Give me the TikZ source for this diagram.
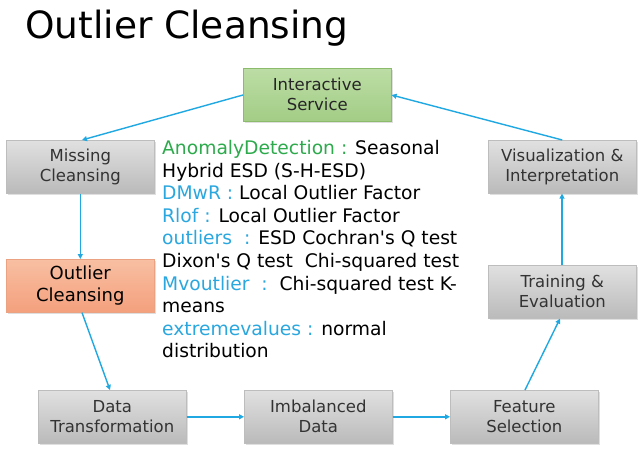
\documentclass[tikz,border=0pt]{standalone}
\usepackage{fontspec}
\setmainfont{DejaVu Sans}[Ligatures=TeXOff]
\usetikzlibrary{arrows.meta,shadows}
\definecolor{arrowblue}{HTML}{1FA8E1}
\definecolor{keyblue}{HTML}{2AA7DE}
\definecolor{keygreen}{HTML}{2DAA4C}
\definecolor{grayborder}{HTML}{BDBDBD}
\definecolor{greenborder}{HTML}{8DBB6C}
\definecolor{greentop}{HTML}{BCDDA5}
\definecolor{greenbot}{HTML}{A3CD86}
\definecolor{orangeborder}{HTML}{EBA283}
\definecolor{orangetop}{HTML}{F8BFA2}
\definecolor{orangebot}{HTML}{F4A07D}
\tikzset{
  box/.style={draw=grayborder, line width=0.6pt, top color=black!12, bottom color=black!27,
    minimum width=148pt, minimum height=53pt, inner sep=0pt, align=center,
    font=\fontsize{16.5}{20}\selectfont, text=black!80, anchor=north west,
    drop shadow={shadow xshift=1.5pt, shadow yshift=-1.5pt, opacity=0.25}},
  greenbox/.style={box, draw=greenborder, top color=greentop, bottom color=greenbot, text=black!85},
  orangebox/.style={box, draw=orangeborder, top color=orangetop, bottom color=orangebot},
  flow/.style={draw=arrowblue, line width=1.4pt, -{Triangle[length=5pt,width=5pt]}},
}
\begin{document}
\begin{tikzpicture}[x=1pt,y=-1pt]
\useasboundingbox[fill=white] (0,0) rectangle (640,451);
\node[anchor=base west, font=\fontsize{37.5}{40}\selectfont, inner sep=0pt] (title) at (25,38) {Outlier Cleansing};
\node[greenbox] (svc) at (243,68) {Interactive\\Service};
\node[box] (miss) at (6,140) {Missing\\Cleansing};
\node[orangebox, font=\fontsize{18}{22}\selectfont, text=black] (out) at (6,259) {Outlier\\Cleansing};
\node[box] (trans) at (38,390) {Data\\Transformation};
\node[box] (imb) at (244,390) {Imbalanced\\Data};
\node[box] (feat) at (450,390) {Feature\\Selection};
\node[box] (train) at (488,265) {Training \&\\Evaluation};
\node[box] (vis) at (488,140) {Visualization \&\\Interpretation};
\node[anchor=north west, inner sep=0pt, align=left, font=\fontsize{18.7}{22.6}\selectfont] (desc) at (162,140) {%
\textcolor{keygreen}{AnomalyDetection :} Seasonal\\
Hybrid ESD (S-H-ESD)\\
\textcolor{keyblue}{DMwR :} Local Outlier Factor\\
\textcolor{keyblue}{Rlof :} Local Outlier Factor\\
\textcolor{keyblue}{outliers\ \ :} ESD Cochran's Q test\\
Dixon's Q test\ \ Chi-squared test\\
\textcolor{keyblue}{Mvoutlier\ \ :}\ \ Chi-squared test K-\\
means\\
\textcolor{keyblue}{extremevalues :} normal\\
distribution};
\draw[flow] (svc.west |- 0,95) -- (miss.north -| 82,0);
\draw[flow] (vis.north) -- (svc.east |- 0,95);
\draw[flow] (miss.south) -- (out.north);
\draw[flow] (out.south -| 82,0) -- (trans.north -| 110,0);
\draw[flow] (trans.east) -- (imb.west);
\draw[flow] (imb.east) -- (feat.west);
\draw[flow] (feat.north -| 525,0) -- (train.south -| 560,0);
\draw[flow] (train.north -| 562,0) -- (vis.south -| 562,0);
\end{tikzpicture}
\end{document}
